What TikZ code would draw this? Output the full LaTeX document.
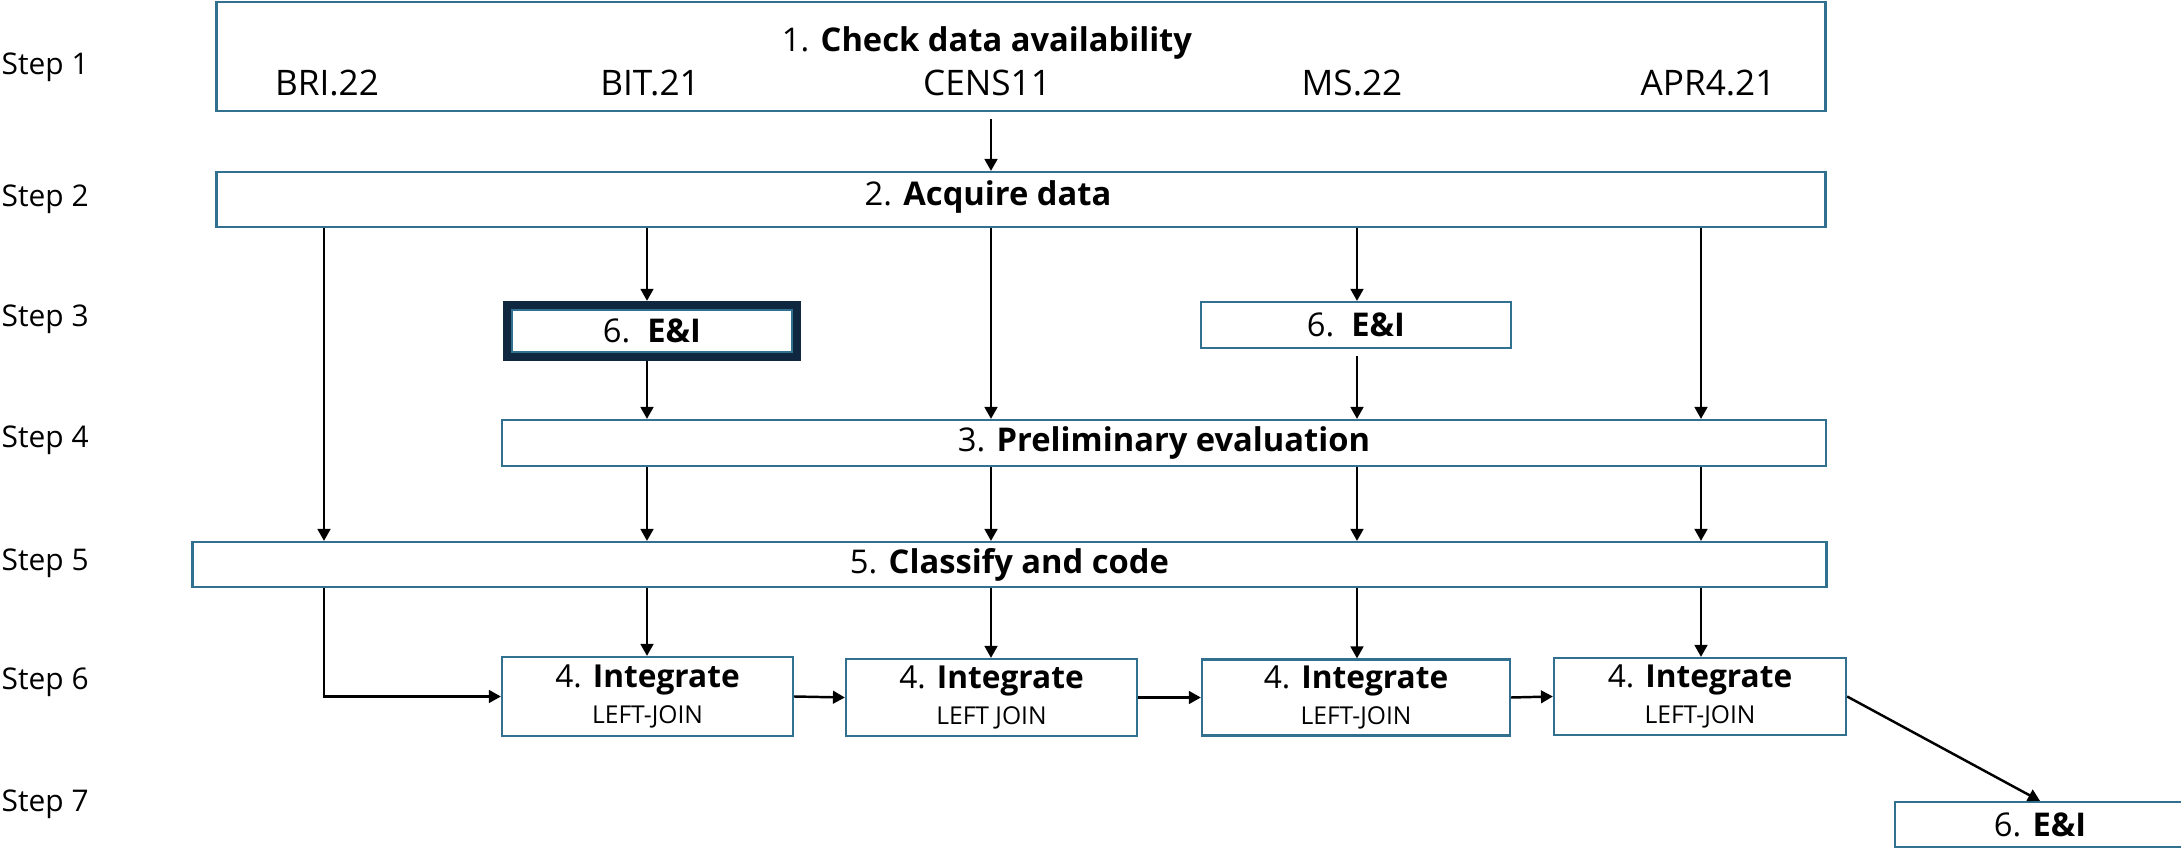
\documentclass[tikz,border=0pt]{standalone}
\usepackage{fontspec}
\setmainfont{Open Sans}
\usetikzlibrary{arrows.meta}
\definecolor{boxblue}{HTML}{31708F}
\definecolor{frameblue}{HTML}{10283F}

\begin{document}
\begin{tikzpicture}[
  x=0.01cm,
  y=-0.01cm,
  every node/.style={font=\fontsize{9.3}{11}\selectfont, text=black},
  box/.style={draw=boxblue, line width=0.6pt, fill=white, inner sep=0pt},
  framedbox/.style={box, outer sep=2.6pt,
                    preaction={draw=frameblue, line width=5pt}},
  intbox/.style={box, align=center, font=\fontsize{9}{10}\selectfont},
  steplabel/.style={anchor=west, inner sep=0pt, font=\fontsize{8.5}{10}\selectfont},
  arr/.style={black, line width=0.7pt, -{Triangle[length=3.4pt, width=3.6pt]}}
]
  \useasboundingbox (0,0) rectangle (2181,849);

  % ---- step labels ----
  \foreach \i/\y in {1/67, 2/199, 3/319, 4/440, 5/563, 6/682, 7/804}
    \node[steplabel] (step\i) at (1,\y) {Step \i};

  % ---- columns ----
  \coordinate (c1) at (324,0);
  \coordinate (c2) at (647,0);
  \coordinate (c3) at (991,0);
  \coordinate (c4) at (1357,0);
  \coordinate (c5) at (1701,0);

  % ---- step 1 ----
  \node[box, minimum width=16.08cm, minimum height=1.09cm] (check) at (1021,56.5) {};
  \node[anchor=base] (checktxt) at (987,52) {1. \textbf{Check data availability}};
  \foreach \nm/\x/\lab in {bri/327/BRI.22, bit/650/BIT.21, cens/987/CENS11,
                           ms/1352/MS.22, apr/1708/APR4.21}
    \node[anchor=base, font=\fontsize{10}{12}\selectfont] (\nm) at (\x,96) {\lab};

  % ---- step 2 ----
  \node[box, minimum width=16.08cm, minimum height=0.55cm] (acquire) at (1021,199.5) {};
  \node (acquiretxt) at (988,197) {2. \textbf{Acquire data}};

  % ---- step 3 ----
  \node[framedbox, minimum width=2.8cm, minimum height=0.42cm] (eia) at (652,331) {6.~~\textbf{E\&I}};
  \node[box, minimum width=3.1cm, minimum height=0.46cm] (eib) at (1356,325) {6.~~\textbf{E\&I}};

  % ---- steps 4 and 5 ----
  \node[box, minimum width=13.24cm, minimum height=0.46cm] (prelim) at (1164,443) {3. \textbf{Preliminary evaluation}};
  \node[box, minimum width=16.33cm, minimum height=0.45cm] (classify) at (1009.5,564.5) {5. \textbf{Classify and code}};

  % ---- step 6 ----
  \node[intbox, minimum width=2.91cm, minimum height=0.79cm] (intA) at (647.5,696.5)
    {4. \textbf{Integrate}\\{\fontsize{7}{8}\selectfont LEFT-JOIN}};
  \node[intbox, minimum width=2.91cm, minimum height=0.77cm] (intB) at (991.5,697.5)
    {4. \textbf{Integrate}\\{\fontsize{7}{8}\selectfont LEFT JOIN}};
  \node[intbox, minimum width=3.08cm, minimum height=0.76cm] (intC) at (1356,697.5)
    {4. \textbf{Integrate}\\{\fontsize{7}{8}\selectfont LEFT-JOIN}};
  \node[intbox, minimum width=2.92cm, minimum height=0.77cm] (intD) at (1700,696.5)
    {4. \textbf{Integrate}\\{\fontsize{7}{8}\selectfont LEFT-JOIN}};

  % ---- step 7 ----
  \node[box, minimum width=2.9cm, minimum height=0.45cm] (eic) at (2040,824.5) {6. \textbf{E\&I}};

  % ---- arrows ----
  \draw[arr, shorten <=2pt] (check.south -| c3) -- (acquire.north -| c3);
  \draw[arr] (acquire.south -| c1) -- (classify.north -| c1);
  \draw[arr] (acquire.south -| c2) -- (eia.north -| c2);
  \draw[arr] (acquire.south -| c3) -- (prelim.north -| c3);
  \draw[arr] (acquire.south -| c4) -- (eib.north -| c4);
  \draw[arr] (acquire.south -| c5) -- (prelim.north -| c5);
  \draw[arr] (eia.south -| c2) -- (prelim.north -| c2);
  \draw[arr, shorten <=2pt] (eib.south -| c4) -- (prelim.north -| c4);
  \foreach \c in {c2,c3,c4,c5}
    \draw[arr] (prelim.south -| \c) -- (classify.north -| \c);
  \foreach \c/\n in {c2/intA, c3/intB, c4/intC, c5/intD}
    \draw[arr] (classify.south -| \c) -- (\n.north -| \c);
  \draw[arr] (classify.south -| c1) |- (intA.west);
  \draw[arr] (intA.east) -- (intB.west);
  \draw[arr] (intB.east) -- (intC.west);
  \draw[arr] (intC.east) -- (intD.west);
  \draw[arr] (intD.east) -- (eic.north);
\end{tikzpicture}
\end{document}
